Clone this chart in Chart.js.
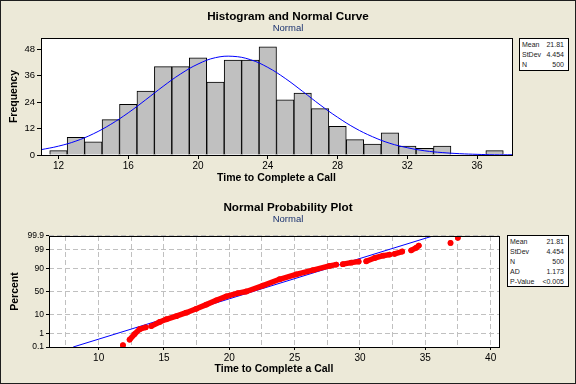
<!DOCTYPE html>
<html>
<head>
<meta charset="utf-8">
<script src="https://cdn.jsdelivr.net/npm/chart.js@4"></script>
<style>
body { margin: 0; background: #ECE9D8; font-family: "Liberation Sans", Arial, sans-serif; }
#page { position: relative; width: 576px; height: 384px; overflow: hidden; }
#frame { position: absolute; left: 0; top: 0; width: 576px; height: 384px; box-sizing: border-box; border: 1px solid #1e1e1e; pointer-events: none; }
canvas { position: absolute; left: 0; }
.titulo { position: absolute; left: 0; width: 576px; text-align: center; font-weight: bold; font-size: 11.7px; line-height: 14px; color: #000; }
.sub { position: absolute; left: 0; width: 576px; text-align: center; font-size: 9.5px; line-height: 12px; color: #1a3270; }
.stats { position: absolute; background: #fff; border: 1px solid #000; box-sizing: border-box; font-size: 7px; color: #222; padding-top: 1px; }
.stats div { display: flex; justify-content: space-between; height: 10px; line-height: 10px; }
</style>
</head>
<body>
<div id="page">
  <canvas id="hist" width="576" height="192" style="top:0"></canvas>
  <canvas id="prob" width="576" height="192" style="top:192px"></canvas>

  <div class="titulo" style="top:9px">Histogram and Normal Curve</div>
  <div class="sub" style="top:22px">Normal</div>
  <div class="titulo" style="top:200px">Normal Probability Plot</div>
  <div class="sub" style="top:213px">Normal</div>

  <div class="stats" style="left:519px; top:38px; width:50px; height:33px; padding-left:2px; padding-right:4px">
    <div><span>Mean</span><span>21.81</span></div>
    <div><span>StDev</span><span>4.454</span></div>
    <div><span>N</span><span>500</span></div>
  </div>
  <div class="stats" style="left:507px; top:235px; width:62px; height:52px; padding-left:2px; padding-right:4px">
    <div><span>Mean</span><span>21.81</span></div>
    <div><span>StDev</span><span>4.454</span></div>
    <div><span>N</span><span>500</span></div>
    <div><span>AD</span><span>1.173</span></div>
    <div><span>P-Value</span><span>&lt;0.005</span></div>
  </div>
  <div id="frame"></div>
</div>
<script>
// histogram: bin centres and counts
const binMid = [12, 13, 14, 15, 16, 17, 18, 19, 20, 21, 22, 23, 24, 25, 26, 27, 28, 29, 30, 31, 32, 33, 34, 35, 36, 37]
const freq = [2, 8, 6, 16, 23, 29, 40, 40, 44, 33, 43, 43, 49, 25, 28, 21, 13, 7, 5, 10, 4, 3, 4, 0, 0, 2]

// normal curve
const curveX = [11, 12, 13, 14, 15, 16, 17, 18, 19, 20, 21, 22, 23, 24, 25, 26, 27, 28, 29, 30, 31, 32, 33, 34, 35, 36, 37, 38]
const curveY = [2.4, 4.0, 6.3, 9.6, 13.9, 19.1, 25.0, 31.1, 36.7, 41.2, 44.1, 44.7, 43.2, 39.7, 34.7, 28.8, 22.7, 17.1, 12.2, 8.3, 5.3, 3.3, 1.9, 1.1, 0.6, 0.3, 0.1, 0.1]

const histXTicks = [12, 16, 20, 24, 28, 32, 36]
const histYTicks = [0, 12, 24, 36, 48]

// probability plot: sample points (null = gap between runs)
const ppX = [11.86, null,
  12.37, 12.75, 13.14, 13.6, null,
  14.03, 14.67, 15.18, 15.94, 16.7, 17.47, 18.24, 19.0, 19.77, 20.66, 21.3, 22.57, 23.85, 25.12, 26.4, 27.67, 28.18, null,
  28.69, 29.33, 29.9, null,
  30.48, 31.12, 31.76, 32.26, null,
  32.65, 33.23, null,
  33.92, 34.3, 34.5, null,
  36.93, null,
  37.49]
const ppPct = [0.14, null,
  0.37, 0.89, 1.8, 2.3, null,
  2.7, 4.5, 6.1, 8.5, 11.9, 16.8, 23.3, 31.2, 39.4, 46.4, 50, 62.9, 75.2, 82.9, 88.3, 92.3, 93.3, null,
  93.6, 94.6, 95.2, null,
  95.4, 96.9, 97.7, 98.0, null,
  98.2, 98.7, null,
  98.9, 99.25, 99.47, null,
  99.66, null,
  99.86]

// fitted line ends
const fitX = [8.05, 35.57]
const fitPct = [0.1, 99.9]

const probTicks = [0.1, 1, 10, 50, 90, 99, 99.9]
const probXTicks = [7.5, 10, 12.5, 15, 17.5, 20, 22.5, 25, 27.5, 30, 32.5, 35, 37.5, 40]

// inverse normal, to put percents on the probability scale
function probit(p) {
  const a = [-39.69683028665376, 220.9460984245205, -275.9285104469687, 138.3577518672690, -30.66479806614716, 2.506628277459239]
  const b = [-54.47609879822406, 161.5858368580409, -155.6989798598866, 66.80131188771972, -13.28068155288572]
  const c = [-0.007784894002430293, -0.3223964580411365, -2.400758277161838, -2.549732539343734, 4.374664141464968, 2.938163982698783]
  const d = [0.007784695709041462, 0.3224671290700398, 2.445134137142996, 3.754408661907416]
  const plow = 0.02425
  let q, r
  if (p < plow) {
    q = Math.sqrt(-2 * Math.log(p))
    return (((((c[0]*q + c[1])*q + c[2])*q + c[3])*q + c[4])*q + c[5]) / ((((d[0]*q + d[1])*q + d[2])*q + d[3])*q + 1)
  }
  if (p > 1 - plow) {
    q = Math.sqrt(-2 * Math.log(1 - p))
    return -(((((c[0]*q + c[1])*q + c[2])*q + c[3])*q + c[4])*q + c[5]) / ((((d[0]*q + d[1])*q + d[2])*q + d[3])*q + 1)
  }
  q = p - 0.5
  r = q * q
  return (((((a[0]*r + a[1])*r + a[2])*r + a[3])*r + a[4])*r + a[5])*q / (((((b[0]*r + b[1])*r + b[2])*r + b[3])*r + b[4])*r + 1)
}

Chart.defaults.font.family = '"Liberation Sans", Arial, sans-serif'
Chart.defaults.color = '#000'

// white plot area with a black frame
const frame = {
  id: 'frame',
  beforeDraw(chart) {
    const {ctx, chartArea: a} = chart
    ctx.save()
    ctx.fillStyle = '#fff'
    ctx.fillRect(a.left, a.top, a.right - a.left, a.bottom - a.top)
    ctx.restore()
  },
  afterDraw(chart) {
    const {ctx, chartArea: a} = chart
    ctx.save()
    ctx.strokeStyle = '#000'
    ctx.lineWidth = 1
    ctx.strokeRect(Math.round(a.left) + 0.5, Math.round(a.top) + 0.5, Math.round(a.right - a.left), Math.round(a.bottom - a.top))
    ctx.restore()
  }
}

new Chart(document.getElementById('hist'), {
  type: 'bar',
  data: {
    datasets: [
      {
        type: 'line',
        data: curveX.map((x, i) => ({x: x, y: curveY[i]})),
        borderColor: '#0000ff',
        borderWidth: 1,
        pointRadius: 0,
        tension: 0.4,
        order: 0
      },
      {
        data: binMid.map((x, i) => ({x: x, y: freq[i]})),
        backgroundColor: '#c0c0c0',
        borderColor: '#000',
        borderWidth: 1,
        barPercentage: 1,
        categoryPercentage: 1,
        order: 1
      }
    ]
  },
  options: {
    responsive: false,
    animation: false,
    layout: {padding: {top: 38, right: 64, bottom: 0, left: 0}},
    plugins: {legend: {display: false}, tooltip: {enabled: false}},
    scales: {
      x: {
        type: 'linear', min: 11, max: 38, offset: false,
        afterBuildTicks: s => { s.ticks = histXTicks.map(v => ({value: v})) },
        afterFit: s => { s.height = 37 },
        grid: {offset: false, drawOnChartArea: false, tickLength: 4, color: '#000'},
        border: {display: false},
        ticks: {autoSkip: false, maxRotation: 0, font: {size: 10}, padding: 1},
        title: {display: true, text: 'Time to Complete a Call', font: {size: 10.5, weight: 'bold'}, padding: {top: 0, bottom: 7.7}}
      },
      y: {
        min: 0, max: 53,
        afterBuildTicks: s => { s.ticks = histYTicks.map(v => ({value: v})) },
        afterFit: s => { s.width = 41 },
        grid: {drawOnChartArea: false, tickLength: 4, color: '#000'},
        border: {display: false},
        ticks: {font: {size: 9.5}, padding: 2},
        title: {display: true, text: 'Frequency', font: {size: 10.5, weight: 'bold'}, padding: {top: 7.7, bottom: 0}}
      }
    }
  },
  plugins: [frame]
})

new Chart(document.getElementById('prob'), {
  type: 'scatter',
  data: {
    datasets: [
      {
        data: ppX.map((x, i) => ({x: x, y: ppPct[i] === null ? null : probit(ppPct[i] / 100)})),
        showLine: true,
        spanGaps: false,
        borderColor: '#ff0000',
        borderWidth: 5.5,
        borderCapStyle: 'round',
        borderJoinStyle: 'round',
        pointRadius: 2.9,
        pointBorderWidth: 0,
        pointBackgroundColor: '#ff0000',
        order: 0
      },
      {
        data: fitX.map((x, i) => ({x: x, y: probit(fitPct[i] / 100)})),
        showLine: true,
        borderColor: '#0000ff',
        borderWidth: 1,
        pointRadius: 0,
        order: 1
      }
    ]
  },
  options: {
    responsive: false,
    animation: false,
    layout: {padding: {top: 44, right: 77, bottom: 0, left: 0}},
    plugins: {legend: {display: false}, tooltip: {enabled: false}},
    scales: {
      x: {
        type: 'linear', min: 6.2, max: 40.64,
        afterBuildTicks: s => { s.ticks = probXTicks.map(v => ({value: v})) },
        afterFit: s => { s.height = 37 },
        grid: {
          color: '#c0c0c0', tickLength: 3, tickBorderDash: [],
          tickColor: c => (c.tick && c.tick.value % 5 === 0) ? '#000' : 'rgba(0,0,0,0)'
        },
        border: {display: false, dash: [5, 3]},
        ticks: {autoSkip: false, maxRotation: 0, font: {size: 10}, padding: 2,
          callback: v => v % 5 === 0 ? String(v) : ''},
        title: {display: true, text: 'Time to Complete a Call', font: {size: 10.5, weight: 'bold'}, padding: {top: 0, bottom: 8.4}}
      },
      y: {
        min: probit(0.001), max: probit(0.999),
        afterBuildTicks: s => { s.ticks = probTicks.map(p => ({value: probit(p / 100)})) },
        afterFit: s => { s.width = 49 },
        grid: {color: '#c0c0c0', tickLength: 3, tickBorderDash: [], tickColor: '#000'},
        border: {display: false, dash: [5, 3]},
        ticks: {font: {size: 8.5}, padding: 2, callback: (v, i) => String(probTicks[i])},
        title: {display: true, text: 'Percent', font: {size: 10.5, weight: 'bold'}, padding: {top: 8.4, bottom: 0}}
      }
    }
  },
  plugins: [frame]
})
</script>
</body>
</html>
